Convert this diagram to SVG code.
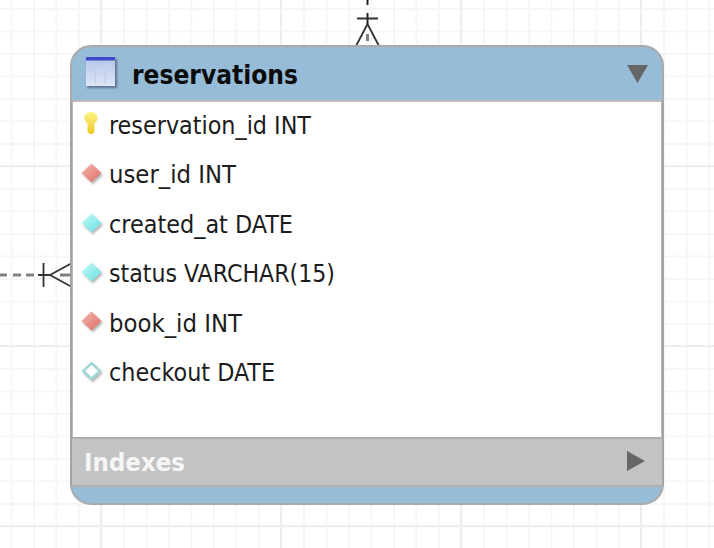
<svg xmlns="http://www.w3.org/2000/svg" width="714" height="548" viewBox="0 0 714 548">
<defs>
<pattern id="minor" width="22.5" height="22.5" patternUnits="userSpaceOnUse" x="10.500" y="8"><path d="M1 0V22.500M0 1H22.500" fill="none" stroke="#f6f6f6" stroke-width="2"/></pattern>
<pattern id="major" width="180" height="180" patternUnits="userSpaceOnUse" x="100" y="165"><path d="M1 0V180M0 1H180" fill="none" stroke="#eeeeee" stroke-width="2"/></pattern>
<linearGradient id="ic" x1="0" y1="0" x2="0" y2="1"><stop offset="0" stop-color="#b5c4e8"/><stop offset="1" stop-color="#dfe7f7"/></linearGradient>
<linearGradient id="key" x1="0" y1="0" x2="0" y2="1"><stop offset="0" stop-color="#fdf48a"/><stop offset="1" stop-color="#eec81e"/></linearGradient>
<linearGradient id="red" x1="0" y1="0" x2="1" y2="1"><stop offset="0" stop-color="#f6b6ae"/><stop offset="1" stop-color="#dc6e66"/></linearGradient>
<linearGradient id="cyan" x1="0" y1="0" x2="1" y2="1"><stop offset="0" stop-color="#c8fbfb"/><stop offset="1" stop-color="#66dfe0"/></linearGradient>
<filter id="soft" x="-30%" y="-30%" width="160%" height="160%"><feGaussianBlur stdDeviation="1.200"/></filter>
<path id="dia" d="M0 -9.500L10 0L0 9.500L-10 0Z"/>
</defs>
<style>
text{font-family:"DejaVu Sans","Liberation Sans",sans-serif}
.f{font-size:24.500px;fill:#1c1c1c;font-stretch:condensed}
.n{stroke:#333;stroke-width:1.800;fill:none}
.sh{fill:#888;opacity:.6;filter:url(#soft)}
</style>
<rect width="714" height="548" fill="#fff"/>
<rect width="714" height="548" fill="url(#minor)"/>
<rect width="714" height="548" fill="url(#major)"/>
<g id="connectors">
<path d="M367.500 0V5M367.500 13V24" stroke="#222" stroke-width="2" fill="none"/>
<path d="M367.500 34V46" stroke="#808080" stroke-width="3" stroke-dasharray="7 4" fill="none"/>
<path class="n" d="M357 18.500H378M367.500 24L356 46M367.500 24L379 46"/>
<path d="M0 275H7M13 275H21M26 275H34M60 275H70" stroke="#808080" stroke-width="3" fill="none"/>
<path class="n" d="M43.500 263V287M38 275H50M50 275L71 263.500M50 275L71 286.500"/>
</g>
<g id="reservations">
<path d="M71 66a20 20 0 0 1 20-20H643a20 20 0 0 1 20 20V484a20 20 0 0 1-20 20H91a20 20 0 0 1-20-20Z" fill="#96bcd8" stroke="#aaaaaa" stroke-width="2"/>
<rect x="72" y="101.500" width="590" height="337" fill="#fff"/>
<path d="M72 101H662" stroke="#bdbdbd" stroke-width="2"/>
<path d="M71.500 101V486M662.500 101V486" stroke="#a3a3a3" stroke-width="2.500"/>
<rect x="72" y="438" width="590" height="48" fill="#c3c3c3"/>
<path d="M72 438H662" stroke="#aeaeae" stroke-width="2"/>
<path d="M72 486H662" stroke="#b0b0b0" stroke-width="2"/>
<g id="table-icon">
<rect x="87" y="59" width="30" height="29" fill="#4a5a75" opacity=".75" filter="url(#soft)"/>
<rect x="86" y="58" width="29" height="28" fill="url(#ic)"/>
<rect x="86" y="57" width="29" height="3.500" fill="#3d49c8"/>
<path d="M95.500 62V84M105 62V84" stroke="#c3d0ec" stroke-width="1.500"/>
</g>
<text x="132" y="84" font-size="26" font-weight="700" fill="#0c0c0c" textLength="166" lengthAdjust="spacingAndGlyphs">reservations</text>
<path d="M627 65H648L637.500 83Z" fill="#666"/>
<g id="f1">
<path d="M91 112c4 0 6.500 2.500 6.500 6 0 2.800-1.800 4.200-3 5.500v8l-2 2.500h-3l-2-2.500v-8c-1.200-1.300-3-2.700-3-5.500 0-3.500 2.500-6 6.500-6Z" fill="url(#key)"/>
<text class="f" x="109" y="134" textLength="202" lengthAdjust="spacingAndGlyphs">reservation_id INT</text>
</g>
<g id="f2">
<use href="#dia" x="93" y="175" class="sh"/><use href="#dia" x="91.500" y="173" fill="url(#red)"/>
<text class="f" x="109" y="183" textLength="127" lengthAdjust="spacingAndGlyphs">user_id INT</text>
</g>
<g id="f3">
<use href="#dia" x="93" y="225" class="sh"/><use href="#dia" x="91.500" y="223" fill="url(#cyan)"/>
<text class="f" x="109" y="233" textLength="184" lengthAdjust="spacingAndGlyphs">created_at DATE</text>
</g>
<g id="f4">
<use href="#dia" x="93" y="274" class="sh"/><use href="#dia" x="91.500" y="272" fill="url(#cyan)"/>
<text class="f" x="109" y="282" textLength="226" lengthAdjust="spacingAndGlyphs">status VARCHAR(15)</text>
</g>
<g id="f5">
<use href="#dia" x="93" y="323" class="sh"/><use href="#dia" x="91.500" y="321" fill="url(#red)"/>
<text class="f" x="109" y="332" textLength="133" lengthAdjust="spacingAndGlyphs">book_id INT</text>
</g>
<g id="f6">
<use href="#dia" x="93" y="373" class="sh"/><use href="#dia" x="91.500" y="371" fill="#9fd6d6"/>
<path d="M91.500 365L98 371L91.500 377L85 371Z" fill="#fff"/>
<text class="f" x="109" y="381" textLength="166" lengthAdjust="spacingAndGlyphs">checkout DATE</text>
</g>
<text x="84" y="471" font-size="24" font-weight="700" fill="#f6f6f6" textLength="101" lengthAdjust="spacingAndGlyphs">Indexes</text>
<path d="M627 451V471L645 461Z" fill="#666"/>
</g>
</svg>
